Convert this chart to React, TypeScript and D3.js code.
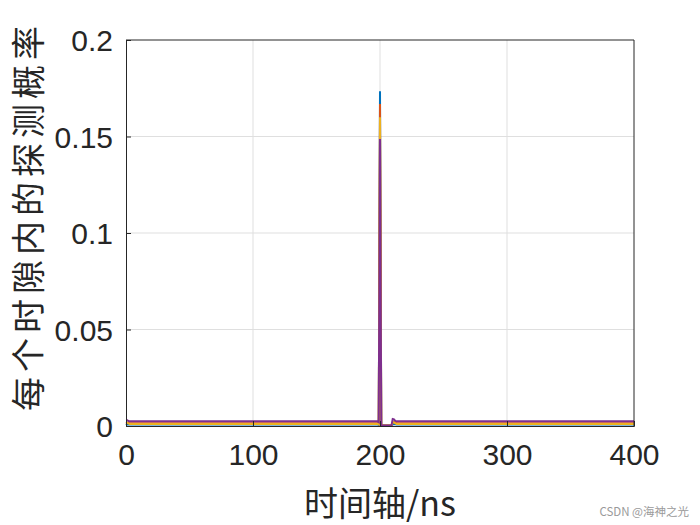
import React, { useEffect, useRef } from 'react';
import * as d3 from 'd3';

// time axis samples (ns) and detection probability per slot for four runs
const timeNs = [0, 1, 2, 3, 198, 199, 200, 201, 202, 209, 210, 211, 212, 213, 400];
const seriesBlue = [0.0004, 0.0008, 0.0008, 0.0008, 0.0008, 0.0006, 0.1735, 0.0003, 0.0002, 0.0002, 0.0008, 0.0010, 0.0009, 0.0008, 0.0008];
const seriesOrange = [0.0012, 0.0016, 0.0015, 0.0014, 0.0014, 0.0010, 0.1668, 0.0003, 0.0002, 0.0002, 0.0018, 0.0020, 0.0017, 0.0014, 0.0014];
const seriesYellow = [0.0018, 0.0018, 0.0012, 0.0010, 0.0010, 0.0008, 0.1600, 0.0004, 0.0003, 0.0003, 0.0020, 0.0020, 0.0014, 0.0010, 0.0010];
const seriesPurple = [0.0030, 0.0030, 0.0026, 0.0024, 0.0024, 0.0020, 0.1487, 0.0002, 0.0002, 0.0002, 0.0036, 0.0034, 0.0026, 0.0024, 0.0024];
const seriesColors = ['#0072BD', '#D95319', '#EDB120', '#7E2F8E'];

const xTicks = [0, 100, 200, 300, 400];
const yTicks = [0, 0.05, 0.1, 0.15, 0.2];
const yTickLabels = ['0', '0.05', '0.1', '0.15', '0.2'];

const App: React.FC = () => {
  const svgRef = useRef<SVGSVGElement>(null);

  useEffect(() => {
    if (!svgRef.current) return;
    const root = d3.select(svgRef.current);
    root.selectAll('*').remove();

    const margin = { top: 40, right: 66, bottom: 99, left: 126 };
    const width = 700 - margin.left - margin.right;
    const height = 525 - margin.top - margin.bottom;
    const textColor = '#262626';
    const tickFont = '"Liberation Sans", Arial, sans-serif';
    const cjkFont = '"Noto Sans CJK SC", sans-serif';

    const g = root.append('g').attr('transform', `translate(${margin.left},${margin.top})`);

    const x = d3.scaleLinear().domain([0, 400]).range([0, width]);
    const y = d3.scaleLinear().domain([0, 0.2]).range([height, 0]);

    // grid
    g.append('g').selectAll('line').data(xTicks.slice(1, -1)).enter().append('line')
      .attr('x1', d => x(d)).attr('x2', d => x(d)).attr('y1', 0).attr('y2', height)
      .attr('stroke', '#dfdfdf').attr('stroke-width', 1);
    g.append('g').selectAll('line').data(yTicks.slice(1, -1)).enter().append('line')
      .attr('x1', 0).attr('x2', width).attr('y1', d => y(d)).attr('y2', d => y(d))
      .attr('stroke', '#dfdfdf').attr('stroke-width', 1);

    // lines
    const all = [seriesBlue, seriesOrange, seriesYellow, seriesPurple];
    const line = d3.line<number>()
      .x((_, i) => x(timeNs[i]))
      .y(d => y(d));
    all.forEach((s, k) => {
      g.append('path')
        .datum(s)
        .attr('d', line)
        .attr('fill', 'none')
        .attr('stroke', seriesColors[k])
        .attr('stroke-width', 2)
        .attr('stroke-linejoin', 'miter');
    });

    // axes (ticks inward)
    const xAxis = d3.axisBottom(x).tickValues(xTicks).tickSize(-5).tickPadding(18).tickFormat(d => String(d));
    const yAxis = d3.axisLeft(y).tickValues(yTicks).tickSize(-5).tickPadding(13)
      .tickFormat((d, i) => yTickLabels[i]);

    const xa = g.append('g').attr('transform', `translate(0,${height})`).call(xAxis);
    const ya = g.append('g').call(yAxis);
    [xa, ya].forEach(a => {
      a.select('.domain').attr('stroke', textColor).attr('stroke-width', 1);
      a.selectAll('.tick line').attr('stroke', textColor);
      a.selectAll('.tick text')
        .attr('fill', textColor)
        .style('font-family', tickFont)
        .style('font-size', '30px');
    });
    ya.selectAll('.tick text').attr('dy', '0.36em');

    // box top/right
    g.append('line').attr('x1', 0).attr('x2', width).attr('y1', 0).attr('y2', 0)
      .attr('stroke', textColor);
    g.append('line').attr('x1', width).attr('x2', width).attr('y1', 0).attr('y2', height)
      .attr('stroke', textColor);

    // axis labels
    g.append('text')
      .attr('x', width / 2)
      .attr('y', height + 90)
      .attr('text-anchor', 'middle')
      .attr('fill', textColor)
      .style('font-family', cjkFont)
      .style('font-size', '34px')
      .text('时间轴/ns');

    g.append('text')
      .attr('transform', `translate(${-85},${height / 2 - 17}) rotate(-90)`)
      .attr('text-anchor', 'middle')
      .attr('fill', textColor)
      .style('font-family', cjkFont)
      .style('font-size', '34px')
      .style('letter-spacing', '5px')
      .text('每个时隙内的探测概率');

    // watermark
    root.append('text')
      .attr('x', 689)
      .attr('y', 516)
      .attr('text-anchor', 'end')
      .attr('fill', '#9a9a9a')
      .style('font-family', cjkFont)
      .style('font-size', '11.5px')
      .text('CSDN @海神之光');
  }, []);

  return (
    <div style={{ position: 'absolute', left: 0, top: 0, width: 700, height: 525, background: '#fff' }}>
      <svg ref={svgRef} width={700} height={525}></svg>
    </div>
  );
};

export default App;
